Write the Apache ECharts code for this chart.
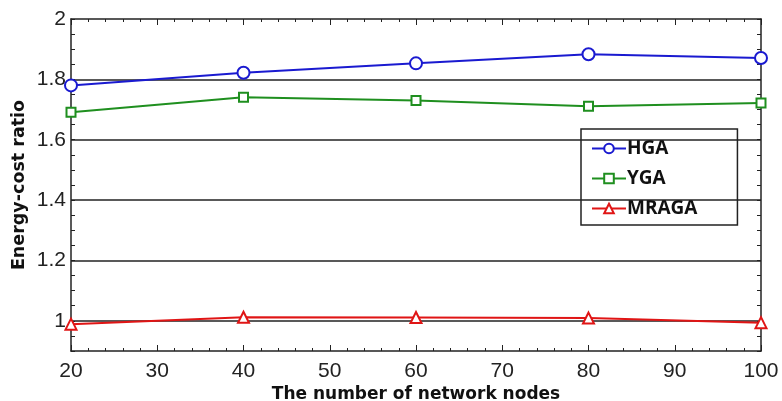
<!DOCTYPE html>
<html>
<head>
<meta charset="utf-8">
<script src="https://cdn.jsdelivr.net/npm/echarts@6/dist/echarts.min.js"></script>
<style>
  html, body { margin: 0; padding: 0; background: #fff; }
  #chart { width: 782px; height: 401px; }
</style>
</head>
<body>
<div id="chart"></div>
<script>
// values
var nodes = [20, 40, 60, 80, 100]
var hga = [1.78, 1.822, 1.853, 1.883, 1.871]
var yga = [1.691, 1.741, 1.73, 1.711, 1.722]
var mraga = [0.989, 1.012, 1.011, 1.009, 0.994]
var gridValues = [1, 1.2, 1.4, 1.6, 1.8]

var chart = echarts.init(document.getElementById('chart'))

function pairs (ys) {
  return nodes.map(function (x, i) { return [x, ys[i]] })
}

var tickFont = { fontFamily: 'Liberation Sans', fontSize: 21, color: '#222' }
var axisLine = { show: true, lineStyle: { color: '#222', width: 1.5 } }

var option = {
  animation: false,
  grid: { left: 71, right: 21, top: 19, bottom: 50, outerBoundsMode: 'none' },
  legend: {
    orient: 'vertical',
    left: 581,
    top: 129,
    width: 156,
    height: 94,
    padding: [10, 40, 7, 10],
    itemGap: 11,
    itemWidth: 34,
    itemHeight: 12,
    borderColor: '#222',
    borderWidth: 1.5,
    backgroundColor: '#fff',
    textStyle: { fontFamily: 'Open Sans', fontWeight: 'bold', fontSize: 19, color: '#111', padding: [0, 0, 0, -4] },
    data: ['HGA', 'YGA', 'MRAGA']
  },
  xAxis: [{
    type: 'value',
    min: 20,
    max: 100,
    interval: 10,
    name: 'The number of network nodes',
    nameLocation: 'middle',
    nameMoveOverlap: false,
    nameGap: 35,
    nameTextStyle: { fontFamily: 'DejaVu Sans', fontWeight: 'bold', fontSize: 17, color: '#111' },
    axisLine: axisLine,
    axisTick: { show: true, inside: true, length: 6, lineStyle: { color: '#222' } },
    minorTick: { show: true, splitNumber: 5, length: 3, lineStyle: { color: '#222' } },
    axisLabel: Object.assign({ margin: 10 }, tickFont),
    splitLine: { show: false }
  }, {
    type: 'value',
    position: 'top',
    min: 20,
    max: 100,
    interval: 10,
    axisLine: axisLine,
    axisTick: { show: true, inside: true, length: 6, lineStyle: { color: '#222' } },
    minorTick: { show: true, splitNumber: 5, length: 3, lineStyle: { color: '#222' } },
    axisLabel: { show: false },
    splitLine: { show: false }
  }],
  yAxis: [{
    type: 'value',
    min: 0.9,
    max: 2,
    interval: 0.1,
    name: 'Energy-cost ratio',
    nameLocation: 'middle',
    nameMoveOverlap: false,
    nameGap: 43,
    nameTextStyle: { fontFamily: 'DejaVu Sans', fontWeight: 'bold', fontSize: 17.5, color: '#111' },
    axisLine: axisLine,
    axisTick: { show: true, inside: true, length: 4, lineStyle: { color: '#222' } },
    minorTick: { show: true, splitNumber: 2, length: 4, lineStyle: { color: '#222' } },
    axisLabel: Object.assign({
      margin: 5,
      formatter: function (v) {
        var r = Math.round(v * 10)
        return r % 2 === 0 ? String(r / 10) : ''
      }
    }, tickFont),
    splitLine: { show: false }
  }, {
    type: 'value',
    position: 'right',
    min: 0.9,
    max: 2,
    interval: 0.1,
    axisLine: axisLine,
    axisTick: { show: true, inside: true, length: 4, lineStyle: { color: '#222' } },
    minorTick: { show: true, splitNumber: 2, length: 4, lineStyle: { color: '#222' } },
    axisLabel: { show: false },
    splitLine: { show: false }
  }],
  series: [{
    name: 'grid',
    type: 'line',
    data: [],
    silent: true,
    markLine: {
      symbol: 'none',
      silent: true,
      label: { show: false },
      lineStyle: { color: '#222', width: 1.5, type: 'solid' },
      data: gridValues.map(function (v) { return { yAxis: v } })
    }
  }, {
    name: 'HGA',
    type: 'line',
    data: pairs(hga),
    symbol: 'emptyCircle',
    symbolSize: 12,
    color: '#1a1ad0',
    lineStyle: { width: 2 },
    itemStyle: { borderWidth: 2 },
    z: 5
  }, {
    name: 'YGA',
    type: 'line',
    data: pairs(yga),
    symbol: 'emptyRect',
    symbolSize: 9,
    color: '#1f8f1f',
    lineStyle: { width: 2 },
    itemStyle: { borderWidth: 2 },
    z: 5
  }, {
    name: 'MRAGA',
    type: 'line',
    data: pairs(mraga),
    symbol: 'emptyTriangle',
    symbolSize: 11,
    color: '#e01515',
    lineStyle: { width: 2 },
    itemStyle: { borderWidth: 2 },
    z: 5
  }]
}

chart.setOption(option)
</script>
</body>
</html>
